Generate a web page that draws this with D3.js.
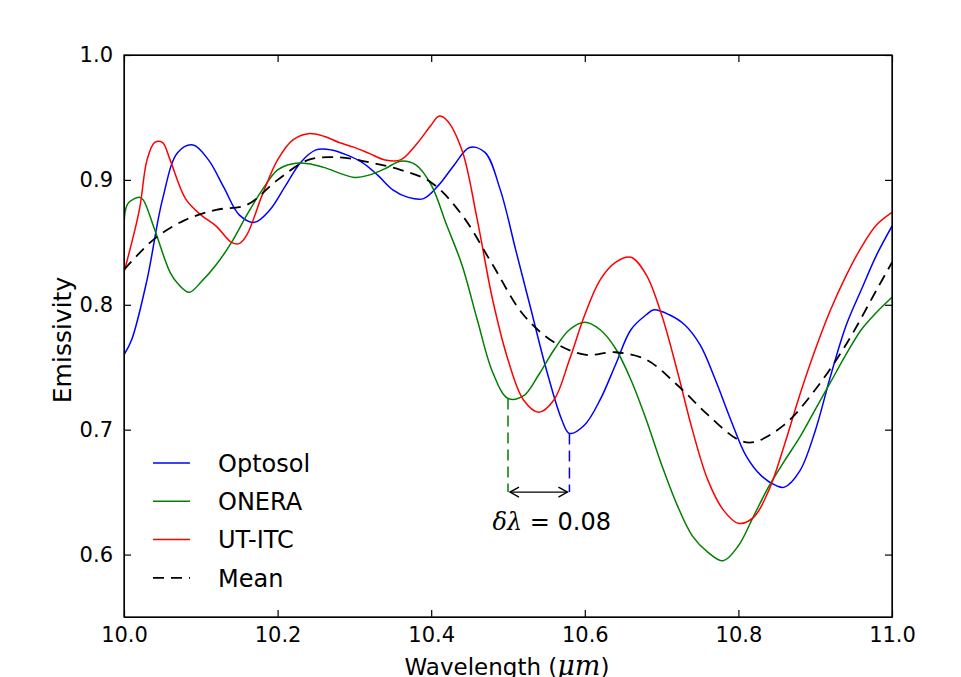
<!DOCTYPE html>
<html>
<head>
<meta charset="utf-8">
<script src="https://cdn.jsdelivr.net/npm/d3@7"></script>
<style>
  body { margin: 0; background: #fff; }
  svg { font-family: "DejaVu Sans", sans-serif; }
</style>
</head>
<body>
<svg id="plot" width="961" height="677"></svg>
<script>
// Optosol
const optosolX = [10.0, 10.01, 10.03, 10.05, 10.07, 10.09, 10.11, 10.13, 10.15, 10.17, 10.19, 10.21, 10.23, 10.25, 10.27, 10.29, 10.31, 10.33, 10.35, 10.37, 10.39, 10.41, 10.43, 10.45, 10.47, 10.49, 10.51, 10.53, 10.55, 10.57, 10.58, 10.60, 10.62, 10.64, 10.66, 10.68, 10.69, 10.71, 10.73, 10.75, 10.77, 10.79, 10.81, 10.83, 10.85, 10.86, 10.88, 10.90, 10.92, 10.94, 10.96, 10.98, 11.0];
const optosolY = [0.760, 0.772, 0.820, 0.884, 0.922, 0.928, 0.916, 0.894, 0.872, 0.866, 0.876, 0.895, 0.914, 0.924, 0.924, 0.920, 0.914, 0.904, 0.892, 0.886, 0.885, 0.896, 0.912, 0.926, 0.922, 0.892, 0.844, 0.796, 0.748, 0.708, 0.697, 0.704, 0.724, 0.752, 0.780, 0.792, 0.796, 0.792, 0.784, 0.768, 0.740, 0.708, 0.679, 0.663, 0.655, 0.654, 0.667, 0.699, 0.743, 0.783, 0.812, 0.840, 0.863];

// ONERA
const oneraX = [10.0, 10.005, 10.02, 10.025, 10.04, 10.06, 10.07, 10.085, 10.10, 10.12, 10.14, 10.16, 10.18, 10.20, 10.22, 10.24, 10.26, 10.30, 10.32, 10.34, 10.36, 10.38, 10.40, 10.42, 10.44, 10.46, 10.48, 10.50, 10.52, 10.54, 10.56, 10.58, 10.60, 10.62, 10.64, 10.66, 10.68, 10.70, 10.72, 10.74, 10.76, 10.78, 10.80, 10.82, 10.84, 10.86, 10.88, 10.90, 10.92, 10.94, 10.96, 10.98, 11.0];
const oneraY = [0.863, 0.881, 0.886, 0.884, 0.860, 0.826, 0.817, 0.810, 0.818, 0.832, 0.850, 0.872, 0.892, 0.908, 0.913, 0.913, 0.910, 0.902, 0.904, 0.909, 0.915, 0.912, 0.896, 0.864, 0.832, 0.788, 0.746, 0.725, 0.727, 0.744, 0.764, 0.780, 0.786, 0.780, 0.765, 0.740, 0.708, 0.672, 0.640, 0.615, 0.602, 0.595, 0.607, 0.631, 0.655, 0.675, 0.694, 0.716, 0.738, 0.760, 0.780, 0.794, 0.806];

// UT-ITC
const utitcX = [10.0, 10.02, 10.03, 10.04, 10.05, 10.06, 10.08, 10.10, 10.12, 10.14, 10.15, 10.16, 10.18, 10.20, 10.22, 10.24, 10.26, 10.28, 10.30, 10.32, 10.34, 10.36, 10.38, 10.40, 10.41, 10.42, 10.44, 10.46, 10.48, 10.50, 10.52, 10.54, 10.56, 10.58, 10.60, 10.62, 10.64, 10.66, 10.68, 10.70, 10.72, 10.74, 10.76, 10.78, 10.80, 10.82, 10.84, 10.86, 10.88, 10.90, 10.92, 10.94, 10.96, 10.98, 11.0];
const utitcY = [0.826, 0.876, 0.916, 0.930, 0.930, 0.916, 0.885, 0.872, 0.863, 0.850, 0.849, 0.856, 0.888, 0.916, 0.932, 0.937, 0.935, 0.930, 0.926, 0.921, 0.916, 0.916, 0.928, 0.944, 0.951, 0.948, 0.924, 0.868, 0.804, 0.756, 0.724, 0.714, 0.724, 0.756, 0.792, 0.820, 0.834, 0.838, 0.824, 0.792, 0.748, 0.700, 0.660, 0.636, 0.625, 0.630, 0.652, 0.688, 0.728, 0.764, 0.796, 0.823, 0.846, 0.864, 0.874];

// Mean
const meanX = [10.0, 10.04, 10.08, 10.12, 10.16, 10.20, 10.24, 10.28, 10.32, 10.36, 10.40, 10.44, 10.48, 10.52, 10.56, 10.60, 10.64, 10.68, 10.72, 10.76, 10.80, 10.82, 10.86, 10.90, 10.94, 10.98, 11.0];
const meanY = [0.828, 0.853, 0.868, 0.876, 0.880, 0.900, 0.916, 0.918, 0.914, 0.908, 0.898, 0.872, 0.832, 0.792, 0.770, 0.760, 0.762, 0.756, 0.736, 0.712, 0.692, 0.690, 0.704, 0.732, 0.768, 0.812, 0.834];

const xTicks = [10.0, 10.2, 10.4, 10.6, 10.8, 11.0];
const yTicks = [0.6, 0.7, 0.8, 0.9, 1.0];

// shift annotation: ONERA min vs Optosol min
const shiftFrom = 10.50, shiftTo = 10.58, shiftLevel = 0.65;
const shiftFromY = 0.725, shiftToY = 0.697;

const series = [
  { name: "Optosol", xs: optosolX, ys: optosolY, color: "#0000ff", dash: null },
  { name: "ONERA", xs: oneraX, ys: oneraY, color: "#008000", dash: null },
  { name: "UT-ITC", xs: utitcX, ys: utitcY, color: "#ff0000", dash: null },
  { name: "Mean", xs: meanX, ys: meanY, color: "#000000", dash: "11,7" }
];

const margin = { top: 55, left: 124 };
const width = 768, height = 562;

const svg = d3.select("#plot");
const g = svg.append("g").attr("transform", `translate(${margin.left},${margin.top})`);

const x = d3.scaleLinear().domain([10, 11]).range([0, width]);
const y = d3.scaleLinear().domain([0.55, 1.0]).range([height, 0]);

const line = d3.line()
  .x(d => x(d[0]))
  .y(d => y(d[1]))
  .curve(d3.curveCatmullRom.alpha(0.5));

g.append("defs").append("clipPath").attr("id", "clip")
  .append("rect").attr("width", width).attr("height", height);

const lines = g.append("g").attr("clip-path", "url(#clip)");
series.forEach(s => {
  lines.append("path")
    .datum(s.xs.map((v, i) => [v, s.ys[i]]))
    .attr("fill", "none")
    .attr("stroke", s.color)
    .attr("stroke-width", s.dash ? 1.8 : 1.5)
    .attr("stroke-dasharray", s.dash)
    .attr("d", line);
});

// annotation
g.append("line")
  .attr("x1", x(shiftFrom)).attr("x2", x(shiftFrom))
  .attr("y1", y(shiftFromY)).attr("y2", y(shiftLevel))
  .attr("stroke", "#008000").attr("stroke-width", 1.5).attr("stroke-dasharray", "11,6");
g.append("line")
  .attr("x1", x(shiftTo)).attr("x2", x(shiftTo))
  .attr("y1", y(shiftToY)).attr("y2", y(shiftLevel))
  .attr("stroke", "#0000ff").attr("stroke-width", 1.5).attr("stroke-dasharray", "11,6");

const ay = y(shiftLevel), ax1 = x(shiftFrom) + 2, ax2 = x(shiftTo) - 2;
g.append("line")
  .attr("x1", ax1).attr("x2", ax2).attr("y1", ay).attr("y2", ay)
  .attr("stroke", "#000").attr("stroke-width", 1.4);
g.append("path")
  .attr("d", `M${ax1 + 9},${ay - 5} L${ax1},${ay} L${ax1 + 9},${ay + 5}`)
  .attr("fill", "none").attr("stroke", "#000").attr("stroke-width", 1.4);
g.append("path")
  .attr("d", `M${ax2 - 9},${ay - 5} L${ax2},${ay} L${ax2 - 9},${ay + 5}`)
  .attr("fill", "none").attr("stroke", "#000").attr("stroke-width", 1.4);

const label = g.append("text")
  .attr("x", (x(shiftFrom) + x(shiftTo)) / 2 + 13)
  .attr("y", ay + 38)
  .attr("text-anchor", "middle")
  .style("font-size", "24px");
label.append("tspan").style("font-family", "DejaVu Serif").style("font-style", "italic").text("δλ");
label.append("tspan").text(" = 0.08");

// axes, ticks pointing inward on all four sides
const xAxis = d3.axisBottom(x).tickValues(xTicks).tickFormat(d3.format(".1f")).tickSizeInner(-7).tickSizeOuter(0).tickPadding(10);
const yAxis = d3.axisLeft(y).tickValues(yTicks).tickFormat(d3.format(".1f")).tickSizeInner(-7).tickSizeOuter(0).tickPadding(11);

const styleAxis = sel => {
  sel.attr("font-family", null).attr("font-size", null);
  sel.selectAll("text").style("font-size", "21px").style("fill", "#000");
  sel.selectAll("line").attr("stroke", "#000").attr("stroke-width", 1.2);
};

g.append("g").attr("class", "x axis")
  .attr("transform", `translate(0,${height})`)
  .call(xAxis).call(styleAxis);
g.append("g").attr("class", "y axis").call(yAxis).call(styleAxis);
g.append("g")
  .call(d3.axisTop(x).tickValues(xTicks).tickSizeInner(-7).tickSizeOuter(0).tickFormat(""))
  .call(styleAxis);
g.append("g")
  .attr("transform", `translate(${width},0)`)
  .call(d3.axisRight(y).tickValues(yTicks).tickSizeInner(-7).tickSizeOuter(0).tickFormat(""))
  .call(styleAxis);

g.append("rect")
  .attr("width", width).attr("height", height)
  .attr("fill", "none").attr("stroke", "#000").attr("stroke-width", 1.3);

// axis labels
g.append("text")
  .attr("transform", "rotate(-90)")
  .attr("x", -(340 - margin.top))
  .attr("y", -53)
  .attr("text-anchor", "middle")
  .style("font-size", "25px")
  .text("Emissivity");

const xl = g.append("text")
  .attr("x", width / 2 - 1)
  .attr("y", height + 58)
  .attr("text-anchor", "middle")
  .style("font-size", "23px");
xl.append("tspan").text("Wavelength (");
xl.append("tspan").style("font-family", "DejaVu Serif").style("font-style", "italic").style("font-size", "27px").text("μm");
xl.append("tspan").text(")");

// legend
const legend = g.append("g").attr("transform", "translate(29,408)");
series.forEach((s, i) => {
  const row = legend.append("g").attr("transform", `translate(0,${i * 38.3})`);
  row.append("line")
    .attr("x1", 0).attr("x2", 37).attr("y1", 0).attr("y2", 0)
    .attr("stroke", s.color).attr("stroke-width", s.dash ? 1.8 : 1.5)
    .attr("stroke-dasharray", s.dash);
  row.append("text")
    .attr("x", 65).attr("y", 0).attr("dy", "0.36em")
    .style("font-size", "24px")
    .text(s.name);
});
</script>
</body>
</html>
